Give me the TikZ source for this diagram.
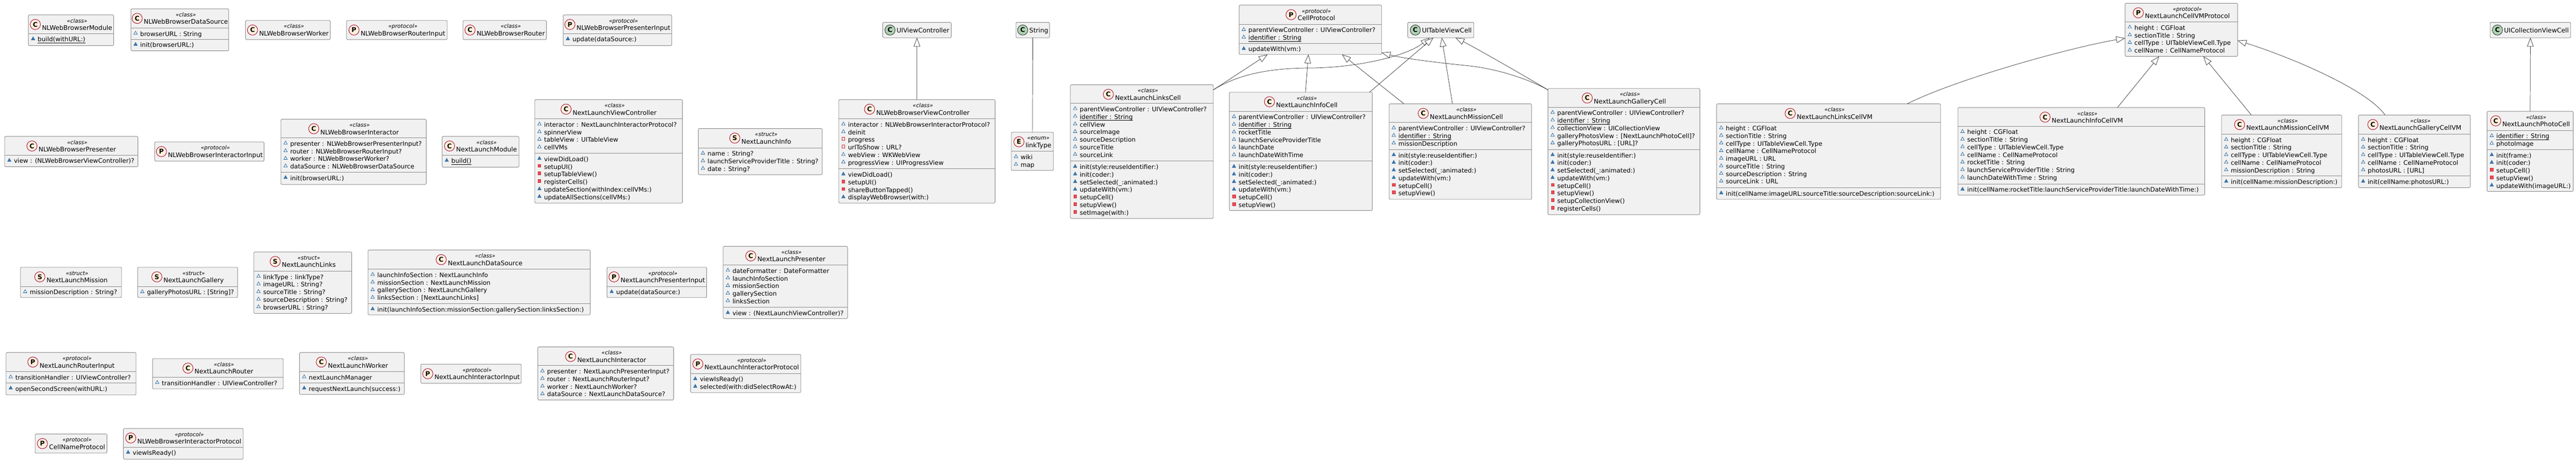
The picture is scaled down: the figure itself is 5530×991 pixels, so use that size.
\documentclass[tikz,border=0pt]{standalone}
\usepackage{fontspec}
\setmainfont{DejaVu Sans}
\usetikzlibrary{arrows.meta}
\definecolor{boxfill}{HTML}{F1F1F1}
\definecolor{boxline}{HTML}{888888}
\definecolor{edgeline}{HTML}{333333}
\definecolor{ringred}{HTML}{A80036}
\definecolor{beige}{HTML}{FFF0DB}
\definecolor{green1}{HTML}{ADD1B2}
\definecolor{visblue}{HTML}{1963A0}
\definecolor{visbluef}{HTML}{4177AF}
\definecolor{visred}{HTML}{C82930}
\definecolor{visredf}{HTML}{F24D5C}
\tikzset{
 boxst/.style={draw=boxline,fill=boxfill,line width=1pt,rounded corners=2.5pt,inner sep=0pt,outer sep=0pt},
 divst/.style={draw=boxline,line width=1pt},
 titlest/.style={inner sep=0pt,outer sep=0pt,font=\fontsize{13.6}{16}\selectfont},
 stereost/.style={inner sep=0pt,outer sep=0pt,font=\fontsize{11.7}{14}\selectfont\itshape},
 memberst/.style={inner sep=0pt,outer sep=0pt,anchor=base west,font=\fontsize{13.3}{16}\selectfont},
 iconst/.style={circle,inner sep=0pt,outer sep=0pt,minimum size=22pt,line width=1pt,font=\fontsize{14}{16}\selectfont\bfseries},
 iconred/.style={iconst,draw=ringred,fill=beige},
 icongreen/.style={iconst,draw=black!80,fill=green1},
 ext/.style={draw=edgeline,line width=.8pt,-{Triangle[length=19pt,width=14pt,fill=white]}},
 plainedge/.style={draw=edgeline,line width=.8pt},
}
\newcommand\uln[1]{\setbox0=\hbox{#1}\rlap{\rule[-3.2pt]{\wd0}{.8pt}}#1}
\newcommand\visf[2]{\draw[visblue,line width=.8pt] (#1-3.8,#2+3.2)--(#1,#2-3.6)--(#1+3.8,#2+3.2)--cycle;}
\newcommand\vism[2]{\draw[visblue,fill=visbluef,line width=.6pt] (#1-3.8,#2+3.2)--(#1,#2-3.6)--(#1+3.8,#2+3.2)--cycle;}
\newcommand\visp[2]{\draw[visred,line width=.8pt] (#1-3,#2-3.2) rectangle (#1+3,#2+3.2);}
\newcommand\visr[2]{\draw[visred,fill=visredf,line width=.6pt] (#1-3,#2-3.2) rectangle (#1+3,#2+3.2);}
% name x0 y0 x1 y1 letter stereotype title
\newcommand\umlbox[8]{%
 \pgfmathsetmacro\bw{#4-#2}\pgfmathsetmacro\bh{#5-#3}%
 \xdef\xl{#2}\xdef\xr{#4}%
 \node[boxst,minimum width=\bw pt,minimum height=\bh pt,anchor=north west] (#1) at (#2,#3) {};
 \pgfmathsetmacro\tcx{(#2+#4)/2+13}\pgfmathsetmacro\tby{#3+32.8}\pgfmathsetmacro\sby{#3+16.8}\pgfmathsetmacro\iy{#3+20.5}%
 \node[titlest,anchor=base] (#1-t) at (\tcx,\tby) {#8};
 \node[stereost,anchor=base] (#1-s) at (\tcx,\sby) {«#7»};
 \path (#1-t.west) ++(-14.3,0) coordinate (#1-b);
 \coordinate (#1-a) at (0,\iy);
 \node[iconred] (#1-i) at (#1-b |- #1-a) {#6};
}
% name x0 y0 x1 y1 title
\newcommand\umlplain[6]{%
 \pgfmathsetmacro\bw{#4-#2}\pgfmathsetmacro\bh{#5-#3}%
 \node[boxst,minimum width=\bw pt,minimum height=\bh pt,anchor=north west] (#1) at (#2,#3) {};
 \pgfmathsetmacro\tcx{(#2+#4)/2+13}\pgfmathsetmacro\tby{#3+21.8}\pgfmathsetmacro\iy{#3+16.5}%
 \node[titlest,anchor=base] (#1-t) at (\tcx,\tby) {#6};
 \path (#1-t.west) ++(-14.3,0) coordinate (#1-b);
 \coordinate (#1-a) at (0,\iy);
 \node[icongreen] (#1-i) at (#1-b |- #1-a) {C};
}
% name divider-y items
\newcommand\umlrows[3]{%
 \draw[divst] (\xl,#2) -- (\xr,#2);
 \foreach \myv/\myt [count=\myi] in {#3} {
  \pgfmathsetmacro\by{#2+17.5+16.33*(\myi-1)}%
  \pgfmathsetmacro\ty{\by-7}\pgfmathsetmacro\tx{\xl+20}\pgfmathsetmacro\vx{\xl+10}%
  \csname vis\myv\endcsname{\vx}{\ty}
  \node[memberst] (#1-\myi) at (\tx,\by) {\myt};
 }
}
\begin{document}
\begin{tikzpicture}[x=1pt,y=-1pt]
\useasboundingbox (0,0) rectangle (5530,991);
\fill[white] (0,0) rectangle (5530,991);

\umlbox{wbmodule}{61}{32}{244}{98}{C}{class}{NLWebBrowserModule}
\umlrows{wbmoduleA}{72}{m/\uln{build(withURL:)}}
\umlbox{wbds}{281}{19}{491}{109}{C}{class}{NLWebBrowserDataSource}
\umlrows{wbdsA}{60}{f/browserURL : String}
\umlrows{wbdsB}{84}{m/init(browserURL:)}
\umlbox{wbworker}{527}{44}{709}{85}{C}{class}{NLWebBrowserWorker}
\umlbox{wbrouterin}{744}{44}{960}{85}{P}{protocol}{NLWebBrowserRouterInput}
\umlbox{wbrouter}{994}{44}{1173}{85}{C}{class}{NLWebBrowserRouter}
\umlbox{wbpresin}{1209}{32}{1442}{98}{P}{protocol}{NLWebBrowserPresenterInput}
\umlrows{wbpresinA}{72}{m/update(dataSource:)}

\umlbox{wbpres}{10}{293}{296}{358}{C}{class}{NLWebBrowserPresenter}
\umlrows{wbpresA}{333}{m/view : (NLWebBrowserViewController)?}
\umlbox{wbintin}{332}{305}{567}{346}{P}{protocol}{NLWebBrowserInteractorInput}
\umlbox{wbint}{603}{256}{915}{396}{C}{class}{NLWebBrowserInteractor}
\umlrows{wbintA}{296}{f/presenter : NLWebBrowserPresenterInput?,f/router : NLWebBrowserRouterInput?,f/worker : NLWebBrowserWorker?,f/dataSource : NLWebBrowserDataSource}
\umlrows{wbintB}{370}{m/init(browserURL:)}
\umlbox{nlmodule}{949}{293}{1114}{359}{C}{class}{NextLaunchModule}
\umlrows{nlmoduleA}{333}{m/\uln{build()}}
\umlbox{nlvc}{1148}{214}{1465}{436}{C}{class}{NextLaunchViewController}
\umlrows{nlvcA}{255}{f/interactor : NextLaunchInteractorProtocol?,f/spinnerView,f/tableView : UITableView,f/cellVMs}
\umlrows{nlvcB}{329}{m/viewDidLoad(),r/setupUI(),r/setupTableView(),r/registerCells(),m/updateSection(withIndex:cellVMs:),m/updateAllSections(cellVMs:)}
\umlbox{nlinfo}{1499}{276}{1765}{375}{S}{struct}{NextLaunchInfo}
\umlrows{nlinfoA}{317.5}{f/name : String?,f/launchServiceProviderTitle : String?,f/date : String?}
\umlplain{uivc}{1895}{48}{2042}{81}{UIViewController}
\umlplain{string}{2181}{48}{2253}{81}{String}
\umlbox{wbvc}{1800.5}{214}{2136}{436}{C}{class}{NLWebBrowserViewController}
\umlrows{wbvcA}{255}{f/interactor : NLWebBrowserInteractorProtocol?,f/deinit,p/progress,p/urlToShow : URL?,f/webView : WKWebView,f/progressView : UIProgressView}
\umlrows{wbvcB}{362.5}{m/viewDidLoad(),r/setupUI(),r/shareButtonTapped(),m/displayWebBrowser(with:)}
\umlbox{linktype}{2171}{284}{2261.5}{366}{E}{enum}{linkType}
\umlrows{linktypeA}{325}{f/wiki,f/map}

\umlbox{linkscell}{2298}{182}{2604.6}{469}{C}{class}{NextLaunchLinksCell}
\umlrows{linkscellA}{222}{f/parentViewController : UIViewController?,f/\uln{identifier : String},f/cellView,f/sourceImage,f/sourceDescription,f/sourceTitle,f/sourceLink}
\umlrows{linkscellB}{346}{m/init(style:reuseIdentifier:),m/init(coder:),m/setSelected(\_:animated:),m/updateWith(vm:),r/setupCell(),r/setupView(),r/setImage(with:)}
\umlbox{cellproto}{2660}{11}{2966}{117}{P}{protocol}{CellProtocol}
\umlrows{cellprotoA}{52}{f/parentViewController : UIViewController?,f/\uln{identifier : String}}
\umlrows{cellprotoB}{93}{m/updateWith(vm:)}
\umlplain{uitvc}{3022}{48}{3164}{81}{UITableViewCell}
\umlbox{infocell}{2639}{198}{2946}{452}{C}{class}{NextLaunchInfoCell}
\umlrows{infocellA}{239}{f/parentViewController : UIViewController?,f/\uln{identifier : String},f/rocketTitle,f/launchServiceProviderTitle,f/launchDate,f/launchDateWithTime}
\umlrows{infocellB}{346}{m/init(style:reuseIdentifier:),m/init(coder:),m/setSelected(\_:animated:),m/updateWith(vm:),r/setupCell(),r/setupView()}
\umlbox{missioncell}{2982}{223}{3288}{428}{C}{class}{NextLaunchMissionCell}
\umlrows{missioncellA}{263}{f/parentViewController : UIViewController?,f/\uln{identifier : String},f/missionDescription}
\umlrows{missioncellB}{321}{m/init(style:reuseIdentifier:),m/init(coder:),m/setSelected(\_:animated:),m/updateWith(vm:),r/setupCell(),r/setupView()}
\umlbox{gallerycell}{3323}{190}{3649}{461}{C}{class}{NextLaunchGalleryCell}
\umlrows{gallerycellA}{230}{f/parentViewController : UIViewController?,f/\uln{identifier : String},f/collectionView : UICollectionView,f/galleryPhotosView : [NextLaunchPhotoCell]?,f/galleryPhotosURL : [URL]?}
\umlrows{gallerycellB}{321}{m/init(style:reuseIdentifier:),m/init(coder:),m/setSelected(\_:animated:),m/updateWith(vm:),r/setupCell(),r/setupView(),r/setupCollectionView(),r/registerCells()}

\umlbox{linksvm}{3685}{223}{4166}{428}{C}{class}{NextLaunchLinksCellVM}
\umlrows{linksvmA}{263}{f/height : CGFloat,f/sectionTitle : String,f/cellType : UITableViewCell.Type,f/cellName : CellNameProtocol,f/imageURL : URL,f/sourceTitle : String,f/sourceDescription : String,f/sourceLink : URL}
\umlrows{linksvmB}{403}{m/init(cellName:imageURL:sourceTitle:sourceDescription:sourceLink:)}
\umlbox{vmproto}{4562}{7}{4803.5}{121}{P}{protocol}{NextLaunchCellVMProtocol}
\umlrows{vmprotoA}{47}{f/height : CGFloat,f/sectionTitle : String,f/cellType : UITableViewCell.Type,f/cellName : CellNameProtocol}
\umlbox{infovm}{4203}{231}{4733}{419}{C}{class}{NextLaunchInfoCellVM}
\umlrows{infovmA}{271}{f/height : CGFloat,f/sectionTitle : String,f/cellType : UITableViewCell.Type,f/cellName : CellNameProtocol,f/rocketTitle : String,f/launchServiceProviderTitle : String,f/launchDateWithTime : String}
\umlrows{infovmB}{395}{m/init(cellName:rocketTitle:launchServiceProviderTitle:launchDateWithTime:)}
\umlbox{missionvm}{4769}{247}{5027}{403}{C}{class}{NextLaunchMissionCellVM}
\umlrows{missionvmA}{288}{f/height : CGFloat,f/sectionTitle : String,f/cellType : UITableViewCell.Type,f/cellName : CellNameProtocol,f/missionDescription : String}
\umlrows{missionvmB}{378}{m/init(cellName:missionDescription:)}
\umlbox{galleryvm}{5063}{247}{5303}{403}{C}{class}{NextLaunchGalleryCellVM}
\umlrows{galleryvmA}{288}{f/height : CGFloat,f/sectionTitle : String,f/cellType : UITableViewCell.Type,f/cellName : CellNameProtocol,f/photosURL : [URL]}
\umlrows{galleryvmB}{378}{m/init(cellName:photosURL:)}
\umlplain{uicvc}{5345.5}{48}{5518.6}{81}{UICollectionViewCell}
\umlbox{photocell}{5339}{239}{5524}{411}{C}{class}{NextLaunchPhotoCell}
\umlrows{photocellA}{280}{f/\uln{identifier : String},f/photoImage}
\umlrows{photocellB}{321}{m/init(frame:),m/init(coder:),r/setupCell(),r/setupView(),m/updateWith(imageURL:)}

\umlbox{nlmission}{44}{574}{261}{639}{S}{struct}{NextLaunchMission}
\umlrows{nlmissionA}{615}{f/missionDescription : String?}
\umlbox{nlgallery}{295.5}{574}{510}{639}{S}{struct}{NextLaunchGallery}
\umlrows{nlgalleryA}{615}{f/galleryPhotosURL : [String]?}
\umlbox{nllinks}{545}{541}{755}{673}{S}{struct}{NextLaunchLinks}
\umlrows{nllinksA}{582}{f/linkType : linkType?,f/imageURL : String?,f/sourceTitle : String?,f/sourceDescription : String?,f/browserURL : String?}
\umlbox{nlds}{790}{537}{1267}{676}{C}{class}{NextLaunchDataSource}
\umlrows{nldsA}{578}{f/launchInfoSection : NextLaunchInfo,f/missionSection : NextLaunchMission,f/gallerySection : NextLaunchGallery,f/linksSection : [NextLaunchLinks]}
\umlrows{nldsB}{652}{m/init(launchInfoSection:missionSection:gallerySection:linksSection:)}
\umlbox{nlpresin}{1303}{574}{1517}{639}{P}{protocol}{NextLaunchPresenterInput}
\umlrows{nlpresinA}{615}{m/update(dataSource:)}
\umlbox{nlpres}{1552.5}{529}{1819.5}{684}{C}{class}{NextLaunchPresenter}
\umlrows{nlpresA}{569}{f/dateFormatter : DateFormatter,f/launchInfoSection,f/missionSection,f/gallerySection,f/linksSection}
\umlrows{nlpresB}{660}{m/view : (NextLaunchViewController)?}

\umlbox{nlrouterin}{13}{757}{292}{848}{P}{protocol}{NextLaunchRouterInput}
\umlrows{nlrouterinA}{798}{f/transitionHandler : UIViewController?}
\umlrows{nlrouterinB}{822}{m/openSecondScreen(withURL:)}
\umlbox{nlrouter}{327.5}{770}{608}{835}{C}{class}{NextLaunchRouter}
\umlrows{nlrouterA}{810}{f/transitionHandler : UIViewController?}
\umlbox{nlworker}{643}{757}{868}{847}{C}{class}{NextLaunchWorker}
\umlrows{nlworkerA}{798}{f/nextLaunchManager}
\umlrows{nlworkerB}{822}{m/requestNextLaunch(success:)}
\umlbox{nlintin}{903.5}{782}{1119}{823}{P}{protocol}{NextLaunchInteractorInput}
\umlbox{nlint}{1154.5}{745}{1446}{859}{C}{class}{NextLaunchInteractor}
\umlrows{nlintA}{785}{f/presenter : NextLaunchPresenterInput?,f/router : NextLaunchRouterInput?,f/worker : NextLaunchWorker?,f/dataSource : NextLaunchDataSource?}
\umlbox{nlintproto}{1482.5}{761}{1719}{843}{P}{protocol}{NextLaunchInteractorProtocol}
\umlrows{nlintprotoA}{802}{m/viewIsReady(),m/selected(with:didSelectRowAt:)}

\umlbox{cellname}{75.5}{932}{229.6}{973}{P}{protocol}{CellNameProtocol}
\umlbox{wbintproto}{265}{920}{522}{986}{P}{protocol}{NLWebBrowserInteractorProtocol}
\umlrows{wbintprotoA}{960}{m/viewIsReady()}

% connectors
\draw[ext] (wbvc.north) -- (uivc.south);
\draw[plainedge] (linktype.north) -- (string.south);
\draw[ext] ([yshift=-11pt]linkscell.north east) -- ([xshift=-92pt]cellproto.south);
\draw[ext] ([xshift=10pt]infocell.north) -- ([xshift=-4.3pt]cellproto.south);
\draw[ext] ([xshift=-121pt]missioncell.north) -- ([xshift=68pt]cellproto.south);
\draw[ext] ([yshift=-3pt]gallerycell.north west) .. controls +(-45,-25) and (3210,147) .. (3150,141) .. controls (3080,134) and (3010,125) .. ([yshift=4pt]cellproto.south east);
\draw[ext] ([yshift=-11pt]linkscell.north east) .. controls +(45,-28) and (2710,146.5) .. (2810,146) .. controls (2910,146) and (3019,121) .. ([xshift=-24pt]uitvc.south);
\draw[ext] ([xshift=147.5pt]infocell.north) -- ([xshift=-16pt]uitvc.south);
\draw[ext] ([xshift=-17pt]missioncell.north) -- ([xshift=2pt]uitvc.south);
\draw[ext] ([yshift=-3pt]gallerycell.north west) .. controls +(-50,-30) and +(40,20) .. ([xshift=31.5pt]uitvc.south);
\draw[ext] ([xshift=168.5pt]linksvm.north) .. controls +(106,-53) and +(-122,21) .. ([yshift=-75pt]vmproto.north west);
\draw[ext] ([xshift=77.5pt]infovm.north) -- ([xshift=-47.75pt]vmproto.south);
\draw[ext] ([xshift=-65pt]missionvm.north) -- ([xshift=47.25pt]vmproto.south);
\draw[ext] ([xshift=-63pt]galleryvm.north) .. controls +(-40,-57) and +(106,33) .. ([yshift=-80pt]vmproto.north east);
\draw[ext] (photocell.north) -- (uicvc.south);
\end{tikzpicture}
\end{document}
